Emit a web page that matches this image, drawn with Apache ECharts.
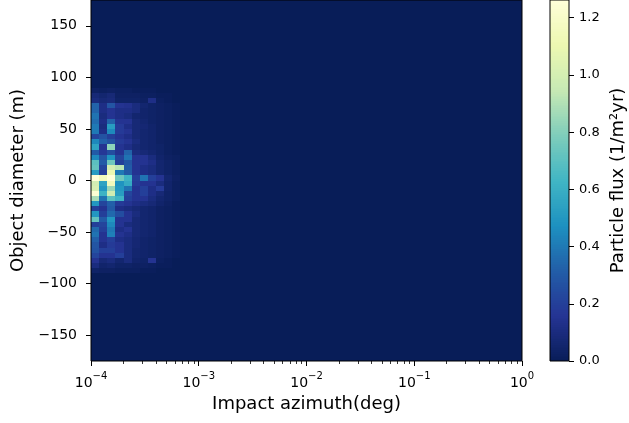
<!DOCTYPE html>
<html>
<head>
<meta charset="utf-8">
<script src="https://cdn.jsdelivr.net/npm/echarts@6/dist/echarts.min.js"></script>
<style>
  html, body { margin: 0; padding: 0; background: #ffffff; }
  #chart { width: 629px; height: 423px; }
</style>
</head>
<body>
<div id="chart"></div>
<script>
// Azimuth bins: log-spaced from 1e-4 to 1 deg
const azimuthLogMin = -4;
const azimuthLogMax = 0;
const azimuthBinCount = 53;

// Diameter bins: 5 m wide, -175 .. 175 m
const diameterMin = -175;
const diameterMax = 175;
const diameterStep = 5;

// Flux per cell (1/m^2 yr); first row is the 85..90 m bin, last row the -90..-85 m bin.
// Columns are the first azimuth bins starting at 1e-4 deg; every other cell is 0.
const fluxRowsTop = 90;
const fluxRows = [
  [0.03, 0.02, 0.03, 0.02, 0.02, 0.01, 0.01, 0.01, 0.00, 0.00, 0.00],
  [0.08, 0.06, 0.08, 0.03, 0.03, 0.03, 0.02, 0.02, 0.01, 0.01, 0.00],
  [0.10, 0.08, 0.09, 0.04, 0.04, 0.04, 0.03, 0.12, 0.02, 0.01, 0.00],
  [0.33, 0.12, 0.28, 0.15, 0.14, 0.10, 0.06, 0.04, 0.03, 0.02, 0.01],
  [0.33, 0.12, 0.15, 0.12, 0.12, 0.10, 0.05, 0.04, 0.03, 0.02, 0.01],
  [0.38, 0.10, 0.15, 0.12, 0.10, 0.06, 0.05, 0.04, 0.03, 0.02, 0.01],
  [0.36, 0.12, 0.33, 0.15, 0.15, 0.08, 0.06, 0.04, 0.03, 0.02, 0.01],
  [0.40, 0.10, 0.52, 0.18, 0.12, 0.08, 0.07, 0.05, 0.03, 0.02, 0.01],
  [0.40, 0.12, 0.45, 0.18, 0.15, 0.08, 0.06, 0.05, 0.03, 0.02, 0.01],
  [0.22, 0.27, 0.20, 0.15, 0.12, 0.08, 0.06, 0.05, 0.03, 0.02, 0.01],
  [0.45, 0.32, 0.27, 0.18, 0.15, 0.10, 0.06, 0.05, 0.03, 0.02, 0.01],
  [0.55, 0.15, 0.82, 0.15, 0.12, 0.08, 0.06, 0.05, 0.04, 0.02, 0.01],
  [0.30, 0.17, 0.25, 0.15, 0.33, 0.10, 0.08, 0.06, 0.04, 0.02, 0.01],
  [0.45, 0.28, 0.48, 0.22, 0.38, 0.15, 0.15, 0.10, 0.05, 0.03, 0.02],
  [0.70, 0.30, 0.75, 0.20, 0.28, 0.15, 0.15, 0.12, 0.06, 0.04, 0.02],
  [0.72, 0.22, 1.00, 0.92, 0.30, 0.15, 0.12, 0.10, 0.06, 0.04, 0.02],
  [0.52, 0.20, 1.10, 0.40, 0.30, 0.15, 0.12, 0.10, 0.06, 0.04, 0.02],
  [1.26, 1.15, 1.26, 0.75, 0.62, 0.20, 0.38, 0.20, 0.15, 0.06, 0.03],
  [1.00, 0.55, 1.15, 0.48, 0.58, 0.18, 0.15, 0.15, 0.10, 0.05, 0.02],
  [1.02, 0.50, 0.85, 0.50, 0.38, 0.15, 0.20, 0.12, 0.18, 0.05, 0.02],
  [1.24, 0.62, 0.98, 0.52, 0.22, 0.15, 0.20, 0.12, 0.08, 0.04, 0.02],
  [0.88, 0.38, 0.70, 0.62, 0.20, 0.15, 0.15, 0.10, 0.06, 0.04, 0.02],
  [0.50, 0.22, 0.32, 0.18, 0.15, 0.12, 0.10, 0.08, 0.05, 0.03, 0.01],
  [0.20, 0.15, 0.30, 0.12, 0.10, 0.08, 0.06, 0.05, 0.03, 0.02, 0.01],
  [0.50, 0.20, 0.35, 0.25, 0.15, 0.10, 0.06, 0.05, 0.03, 0.02, 0.01],
  [0.72, 0.30, 0.50, 0.15, 0.15, 0.08, 0.06, 0.05, 0.03, 0.02, 0.01],
  [0.20, 0.22, 0.45, 0.15, 0.10, 0.08, 0.06, 0.05, 0.03, 0.02, 0.01],
  [0.35, 0.20, 0.40, 0.12, 0.15, 0.08, 0.06, 0.05, 0.03, 0.02, 0.01],
  [0.38, 0.15, 0.42, 0.15, 0.12, 0.08, 0.06, 0.05, 0.03, 0.02, 0.01],
  [0.32, 0.15, 0.20, 0.12, 0.10, 0.07, 0.05, 0.04, 0.03, 0.02, 0.01],
  [0.28, 0.12, 0.18, 0.15, 0.10, 0.07, 0.05, 0.04, 0.03, 0.02, 0.01],
  [0.27, 0.20, 0.20, 0.15, 0.10, 0.06, 0.05, 0.04, 0.03, 0.02, 0.01],
  [0.22, 0.15, 0.15, 0.20, 0.10, 0.06, 0.05, 0.04, 0.03, 0.02, 0.01],
  [0.15, 0.08, 0.10, 0.06, 0.10, 0.05, 0.04, 0.15, 0.02, 0.01, 0.00],
  [0.10, 0.05, 0.06, 0.04, 0.04, 0.03, 0.03, 0.02, 0.01, 0.01, 0.00],
  [0.04, 0.03, 0.03, 0.02, 0.02, 0.02, 0.01, 0.01, 0.00, 0.00, 0.00]
];

const fluxMax = 1.262;

// Tick labels
const azimuthTicks = [1e-4, 1e-3, 1e-2, 1e-1, 1];
const azimuthMinorFactors = [2, 3, 4, 5, 6, 7, 8, 9];
const diameterTicks = [-150, -100, -50, 0, 50, 100, 150];
const colorbarTicks = [0, 0.2, 0.4, 0.6, 0.8, 1.0, 1.2];

// YlGnBu, low to high
const ylgnbu = ['#081d58', '#253494', '#225ea8', '#1d91c0', '#41b6c4',
                '#7fcdbb', '#c7e9b4', '#edf8b1', '#ffffd9'];

// ---- build cells ----
const azimuthEdges = [];
for (let k = 0; k <= azimuthBinCount; k++) {
  azimuthEdges.push(Math.pow(10, azimuthLogMin + (azimuthLogMax - azimuthLogMin) * k / azimuthBinCount));
}
const cells = [];
for (let lo = diameterMin; lo < diameterMax; lo += diameterStep) {
  const rowIdx = (fluxRowsTop - (lo + diameterStep)) / diameterStep;
  const row = (rowIdx >= 0 && rowIdx < fluxRows.length) ? fluxRows[rowIdx] : null;
  for (let c = 0; c < azimuthBinCount; c++) {
    const v = row && c < row.length ? row[c] : 0;
    cells.push([azimuthEdges[c], azimuthEdges[c + 1], lo, lo + diameterStep, v]);
  }
}

// colour bar strips
const colorbarSteps = 200;
const colorbarCells = [];
for (let k = 0; k < colorbarSteps; k++) {
  const a = fluxMax * k / colorbarSteps, b = fluxMax * (k + 1) / colorbarSteps;
  colorbarCells.push([0, 1, a, b, (a + b) / 2]);
}

const azimuthMinorTicks = [];
for (let e = azimuthLogMin; e < azimuthLogMax; e++) {
  azimuthMinorFactors.forEach(f => azimuthMinorTicks.push(f * Math.pow(10, e)));
}

function renderCell(params, api) {
  const p0 = api.coord([api.value(0), api.value(3)]);
  const p1 = api.coord([api.value(1), api.value(2)]);
  const x0 = Math.round(p0[0]), x1 = Math.round(p1[0]);
  const y0 = Math.round(p0[1]), y1 = Math.round(p1[1]);
  return {
    type: 'rect',
    shape: { x: x0, y: y0, width: x1 - x0, height: y1 - y0 },
    style: { fill: api.visual('color') }
  };
}

const minus = s => String(s).replace('-', '\u2212');

const chart = echarts.init(document.getElementById('chart'));
chart.setOption({
  animation: false,
  textStyle: { fontFamily: 'DejaVu Sans', color: '#000' },
  grid: [
    { left: 91, top: 0, width: 431, height: 361, show: true, z: 10,
      backgroundColor: 'transparent', borderColor: '#000', borderWidth: 1 },
    { left: 550, top: 0, width: 19, height: 361, show: true, z: 10,
      backgroundColor: 'transparent', borderColor: '#000', borderWidth: 1 }
  ],
  xAxis: [
    {
      type: 'log', logBase: 10, gridIndex: 0, min: 1e-4, max: 1, position: 'bottom', z: 10,
      axisLine: { show: false, onZero: false },
      splitLine: { show: false },
      axisTick: { show: true, inside: false, length: 5, customValues: azimuthTicks,
                  lineStyle: { color: '#000', width: 1 } },
      axisLabel: {
        customValues: azimuthTicks, margin: 13, color: '#000',
        formatter: v => {
          const e = Math.round(Math.log10(v));
          return '{b|10}{s|' + minus(e) + '}';
        },
        rich: {
          b: { fontSize: 14, fontFamily: 'DejaVu Sans', color: '#000', lineHeight: 16, verticalAlign: 'bottom' },
          s: { fontSize: 10, fontFamily: 'DejaVu Sans', color: '#000', lineHeight: 10,
               padding: [0, 0, 9, 0], verticalAlign: 'bottom' }
        }
      },
      name: 'Impact azimuth(deg)', nameLocation: 'middle', nameGap: 34,
      nameTextStyle: { fontSize: 18, color: '#000', fontFamily: 'DejaVu Sans' }
    },
    {
      type: 'log', logBase: 10, gridIndex: 0, min: 1e-4, max: 1, position: 'bottom', z: 10,
      axisLine: { show: false, onZero: false },
      splitLine: { show: false },
      axisLabel: { show: false },
      axisTick: { show: true, inside: false, length: 3, customValues: azimuthMinorTicks,
                  lineStyle: { color: '#000', width: 0.8 } }
    },
    { type: 'value', gridIndex: 1, min: 0, max: 1, show: false }
  ],
  yAxis: [
    {
      type: 'value', gridIndex: 0, min: diameterMin, max: diameterMax, z: 10,
      axisLine: { show: false, onZero: false },
      splitLine: { show: false },
      axisTick: { show: true, inside: false, length: 5, customValues: diameterTicks,
                  lineStyle: { color: '#000', width: 1 } },
      axisLabel: { customValues: diameterTicks, margin: 14, fontSize: 14, color: '#000',
                   fontFamily: 'DejaVu Sans', formatter: v => minus(v) },
      name: 'Object diameter (m)', nameLocation: 'middle', nameGap: 62,
      nameTextStyle: { fontSize: 18, color: '#000', fontFamily: 'DejaVu Sans' }
    },
    {
      type: 'value', gridIndex: 1, position: 'right', min: 0, max: fluxMax, z: 10,
      axisLine: { show: false, onZero: false },
      splitLine: { show: false },
      axisTick: { show: true, inside: false, length: 5, customValues: colorbarTicks,
                  lineStyle: { color: '#000', width: 1 } },
      axisLabel: { customValues: colorbarTicks, margin: 10, fontSize: 13, color: '#000',
                   fontFamily: 'DejaVu Sans', formatter: v => v.toFixed(1) },
      name: 'Particle flux (1/m\u00B2yr)', nameLocation: 'middle', nameRotate: 90, nameGap: 40,
      nameTextStyle: { fontSize: 18, color: '#000', fontFamily: 'DejaVu Sans' }
    }
  ],
  visualMap: {
    type: 'continuous', show: false, min: 0, max: fluxMax, dimension: 4,
    seriesIndex: [0, 1], inRange: { color: ylgnbu }
  },
  series: [
    {
      type: 'custom', xAxisIndex: 0, yAxisIndex: 0, clip: true,
      renderItem: renderCell,
      encode: { x: [0, 1], y: [2, 3] },
      data: cells
    },
    {
      type: 'custom', xAxisIndex: 2, yAxisIndex: 1, clip: true,
      renderItem: renderCell,
      encode: { x: [0, 1], y: [2, 3] },
      data: colorbarCells
    }
  ]
});
</script>
</body>
</html>
